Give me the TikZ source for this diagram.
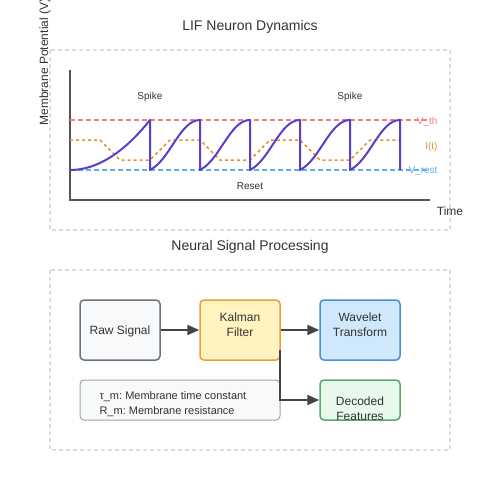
\documentclass[tikz,border=0pt]{standalone}
\usepackage{fontspec}
\setmainfont{Liberation Sans}
\frenchspacing
\usetikzlibrary{arrows.meta}
\definecolor{txt}{HTML}{333333}
\definecolor{axisc}{HTML}{555555}
\definecolor{framec}{HTML}{DDDDDD}
\definecolor{vthc}{HTML}{F87C7C}
\definecolor{vrestc}{HTML}{60B0F4}
\definecolor{itc}{HTML}{E8902C}
\definecolor{vmc}{HTML}{5B3EC8}
\definecolor{rawfill}{HTML}{F8F9FA}
\definecolor{rawdraw}{HTML}{6C757D}
\definecolor{kalfill}{HTML}{FFF3BF}
\definecolor{kaldraw}{HTML}{F0A030}
\definecolor{wavfill}{HTML}{D0E8FC}
\definecolor{wavdraw}{HTML}{4A90D9}
\definecolor{decfill}{HTML}{E8F8EC}
\definecolor{decdraw}{HTML}{5AAA6A}
\definecolor{legdraw}{HTML}{A0A4A8}
\definecolor{arrc}{HTML}{444444}
\tikzset{
  frame/.style={draw=framec, line width=1.2pt, dash pattern=on 4pt off 3pt},
  axisline/.style={draw=axisc, line width=2pt},
  thline/.style={draw=vthc, line width=1.5pt, dash pattern=on 5pt off 3pt},
  restline/.style={draw=vrestc, line width=1.5pt, dash pattern=on 5pt off 3pt},
  itline/.style={draw=itc, line width=1.5pt, dash pattern=on 3pt off 3pt},
  vmline/.style={draw=vmc, line width=2pt},
  small/.style={font=\fontsize{10}{12}\selectfont, text=txt},
  box/.style={rounded corners=4pt, line width=1.5pt, minimum width=80pt, minimum height=60pt, inner sep=0pt},
  boxtext/.style={font=\fontsize{12}{15}\selectfont, text=txt, align=center},
  conn/.style={draw=arrc, line width=2pt, -{Triangle[length=12pt,width=10pt]}},
}
\begin{document}
\begin{tikzpicture}[x=1pt,y=-1pt]
\useasboundingbox (0,0) rectangle (500,500);
\fill[white] (0,0) rectangle (500,500);
% ---------- top panel ----------
\node[font=\fontsize{14}{16}\selectfont, text=txt] (t1) at (250,26.5) {LIF Neuron Dynamics};
\draw[frame] (50,50) rectangle (450,230);
\coordinate (ytop) at (70,70);
\coordinate (orig) at (70,200);
\coordinate (xend) at (430,200);
\draw[axisline] (ytop) -- (orig) -- (xend);
\node[font=\fontsize{12}{14}\selectfont, text=txt, rotate=90] (ylab) at (45,62) {Membrane Potential (V)};
\node[font=\fontsize{12}{14}\selectfont, text=txt] (xlab) at (450,211.5) {Time};
% threshold / rest
\coordinate (th0) at (70,120); \coordinate (th1) at (430,120);
\coordinate (rs0) at (70,170); \coordinate (rs1) at (430,170);
\draw[thline] (th0) -- (th1);
\draw[restline] (rs0) -- (rs1);
\node[small, text=vthc, anchor=east] (vth) at (441,121.5) {V\_th};
\node[small, text=itc, anchor=east] (it) at (441,146.5) {I(t)};
\node[small, text=vrestc, anchor=east] (vrest) at (441,171.5) {V\_rest};
% input current
\draw[itline] (70,140) -- (100,140) -- (120,160) -- (150,160) -- (170,140) -- (200,140)
  -- (220,160) -- (250,160) -- (270,140) -- (300,140) -- (320,160) -- (350,160)
  -- (370,140) -- (400,140);
% membrane potential
\draw[vmline, line join=round] (70,170) .. controls (96.67,170) and (123.33,153.33) .. (150,120) -- (150,170)
  .. controls (170,160) and (180,120) .. (200,120) -- (200,170)
  .. controls (220,160) and (230,120) .. (250,120) -- (250,170)
  .. controls (270,160) and (280,120) .. (300,120) -- (300,170)
  .. controls (320,160) and (330,120) .. (350,120) -- (350,170)
  .. controls (370,160) and (380,120) .. (400,120) -- (400,170);
\node[small] (sp1) at (150,96.5) {Spike};
\node[small] (sp2) at (350,96.5) {Spike};
\node[small] (reset) at (250,186.5) {Reset};
% ---------- bottom panel ----------
\node[font=\fontsize{14}{16}\selectfont, text=txt] (t2) at (250,246.5) {Neural Signal Processing};
\draw[frame] (50,270) rectangle (450,450);
\node[box, draw=rawdraw, fill=rawfill] (raw) at (120,330) {};
\node[boxtext] (rawt) at (120,331) {Raw Signal};
\node[box, draw=kaldraw, fill=kalfill] (kal) at (240,330) {};
\node[boxtext] (kalt) at (240,324.5) {Kalman\\Filter};
\node[box, draw=wavdraw, fill=wavfill] (wav) at (360,330) {};
\node[boxtext] (wavt) at (360,324.5) {Wavelet\\Transform};
\node[box, draw=decdraw, fill=decfill, minimum height=40pt] (dec) at (360,400) {};
\node[boxtext] (dect) at (360,408.5) {Decoded\\Features};
\node[box, draw=legdraw, fill=rawfill, line width=1pt, minimum width=200pt, minimum height=40pt] (leg) at (180,400) {};
\node[font=\fontsize{11}{15}\selectfont, text=txt, align=left, anchor=west] (legt) at (96,404) {τ\_m: Membrane time constant\\R\_m: Membrane resistance};
\draw[conn] (raw) -- (kal);
\draw[conn] (kal) -- (wav);
\coordinate (kd) at (280,350);
\draw[conn] (kd) |- (dec.west);
\end{tikzpicture}
\end{document}
